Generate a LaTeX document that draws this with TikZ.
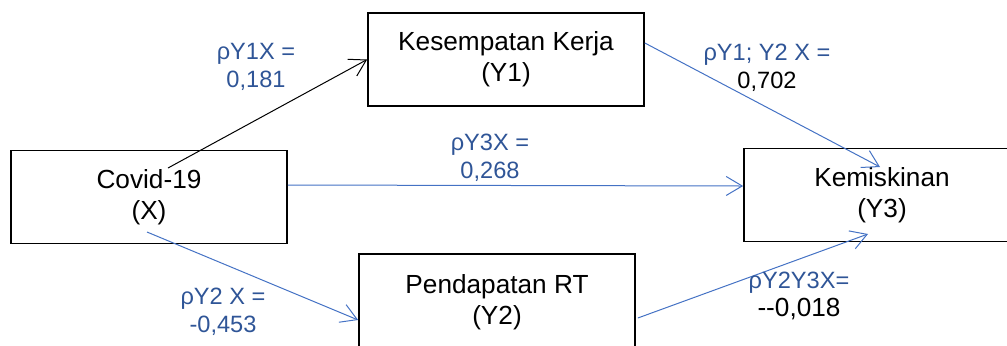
\documentclass[tikz,border=0pt]{standalone}
\usepackage{fontspec}
\setmainfont[Ligatures=NoCommon]{Liberation Sans}
\usetikzlibrary{arrows.meta}
\definecolor{lineblue}{HTML}{4472C4}
\definecolor{textblue}{HTML}{2F5597}
\begin{document}
\begin{tikzpicture}[x=0.5pt,y=-0.5pt,
  varbox/.style={draw=black,line width=0.85pt,fill=white,minimum width=138pt,minimum height=46.5pt,align=center,inner sep=0pt,font=\fontsize{13.1}{15.5}\selectfont},
  coef/.style={align=center,text=textblue,inner sep=0pt,font=\fontsize{11.8}{14}\selectfont},
  barb/.style={-{Straight Barb[length=8pt,width=9.5pt]}},
  blueline/.style={draw=lineblue,line width=0.5pt,barb},
  blackline/.style={draw=black,line width=0.5pt,barb}]
\useasboundingbox (0,0) rectangle (1007,345);
\clip (0,0) rectangle (1007,345);
% boxes
\node[varbox] (X) at (149,197) {Covid-19\\(X)};
\node[varbox] (Y1) at (506,59.5) {Kesempatan Kerja\\(Y1)};
\node[varbox] (Y3) at (882,195) {Kemiskinan\\(Y3)};
\node[varbox,minimum height=48pt] (Y2) at (497,302) {Pendapatan RT\\(Y2)};
% connectors
\draw[blackline] ([shift={(19,-29)}]X.center) -- (Y1.west);
\draw[blueline] ([shift={(0,-12)}]X.east) -- ([shift={(0,-9)}]Y3.west);
\draw[blueline] ([shift={(-2,35)}]X.center) -- ([shift={(0,18)}]Y2.west);
\draw[blueline] ([shift={(0,-16.5)}]Y1.east) -- ([shift={(-2,-28)}]Y3.center);
\draw[blueline] ([shift={(2,16)}]Y2.east) -- ([shift={(-14,39)}]Y3.center);
% coefficients
\node[coef] (c1) at (256,67) {ρY1X =\\0,181};
\node[coef] (c2) at (490,158) {ρY3X =\\0,268};
\node[coef] (c3) at (767,68) {ρY1; Y2 X =\\\textcolor{black}{0,702}};
\node[coef] (c4) at (223,312) {ρY2 X =\\-0,453};
\node[coef] (c5) at (799,296) {ρY2Y3X=\\\textcolor{black}{\fontsize{13.1}{14}\selectfont -{}-0,018}};
\end{tikzpicture}
\end{document}
